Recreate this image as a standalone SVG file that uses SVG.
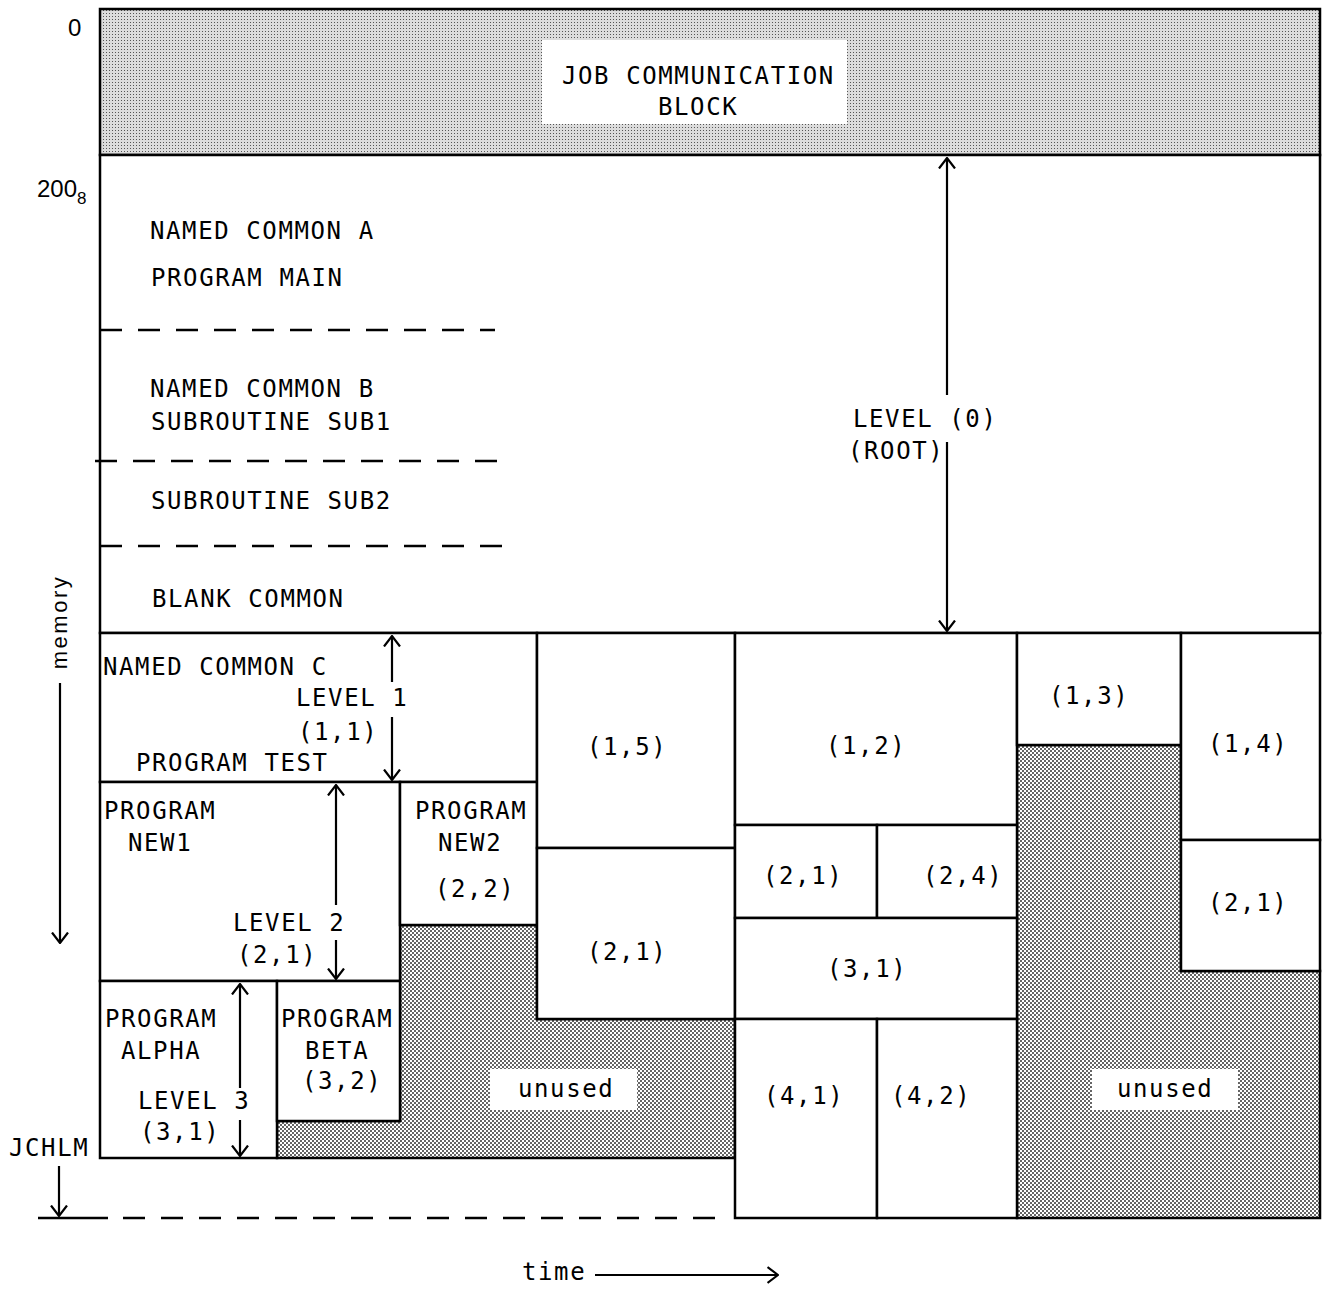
<svg xmlns="http://www.w3.org/2000/svg" width="1322" height="1289" viewBox="0 0 1322 1289">
<defs>
<pattern id="fine" width="3" height="3" patternUnits="userSpaceOnUse"><rect width="3" height="3" fill="#dcdcdc"/><rect x="1" y="1" width="1" height="1" fill="#555"/></pattern>
<pattern id="dots" width="4" height="4" patternUnits="userSpaceOnUse"><rect width="4" height="4" fill="#fff"/><circle cx="1" cy="1" r="0.95" fill="#222"/><circle cx="3" cy="3" r="0.95" fill="#222"/></pattern>
<marker id="ah" viewBox="0 0 12 18" refX="11" refY="9" markerWidth="12" markerHeight="18" markerUnits="userSpaceOnUse" orient="auto"><path d="M0.5,1 L11,9 L0.5,17" fill="none" stroke="#000" stroke-width="2.2"/></marker>
</defs>
<style>
.t{font-family:"DejaVu Sans Mono",monospace;font-size:24px;letter-spacing:1.6px;fill:#000}
.s{font-family:"Liberation Sans",Arial,sans-serif;fill:#000}
.b{fill:#fff;stroke:#000;stroke-width:2.5}
.g{fill:url(#dots);stroke:#000;stroke-width:2.5}
.d{stroke:#000;stroke-width:2.5;fill:none;stroke-dasharray:22 16}
.a{stroke:#000;stroke-width:2.2;fill:none;marker-end:url(#ah)}
</style>
<rect width="1322" height="1289" fill="#fff"/>

<g id="header">
<rect x="100" y="9" width="1220" height="146" fill="url(#fine)" stroke="#000" stroke-width="2.5"/>
<rect x="542" y="40" width="305" height="84" fill="#fff"/>
<text class="t" x="562" y="84">JOB COMMUNICATION</text>
<text class="t" x="658" y="115">BLOCK</text>
</g>

<g id="root">
<rect class="b" x="100" y="155" width="1220" height="478"/>
<line class="d" x1="100" y1="330" x2="495" y2="330"/>
<line class="d" x1="95" y1="461" x2="500" y2="461"/>
<line class="d" x1="100" y1="546" x2="502" y2="546"/>
<text class="t" x="150" y="239">NAMED COMMON A</text>
<text class="t" x="151" y="286">PROGRAM MAIN</text>
<text class="t" x="150" y="397">NAMED COMMON B</text>
<text class="t" x="151" y="430">SUBROUTINE SUB1</text>
<text class="t" x="151" y="509">SUBROUTINE SUB2</text>
<text class="t" x="152" y="607">BLANK COMMON</text>
<text class="t" x="853" y="427">LEVEL (0)</text>
<text class="t" x="848" y="459">(ROOT)</text>
</g>

<g id="unused1">
<polygon class="g" points="400,925 537,925 537,1019 735,1019 735,1158 277,1158 277,1121 400,1121"/>
<rect x="490" y="1069" width="147" height="41" fill="#fff"/>
<text class="t" x="518" y="1097">unused</text>
</g>
<g id="unused2">
<polygon class="g" points="1017,745 1181,745 1181,971 1320,971 1320,1218 1017,1218"/>
<rect x="1092" y="1069" width="146" height="41" fill="#fff"/>
<text class="t" x="1117" y="1097">unused</text>
</g>

<g id="n11"><rect class="b" x="100" y="633" width="437" height="149"/>
<text class="t" x="103" y="675">NAMED COMMON C</text>
<text class="t" x="296" y="706">LEVEL 1</text>
<text class="t" x="298" y="740">(1,1)</text>
<text class="t" x="136" y="771">PROGRAM TEST</text></g>
<g id="new1"><rect class="b" x="100" y="782" width="300" height="199"/>
<text class="t" x="104" y="819">PROGRAM</text>
<text class="t" x="128" y="851">NEW1</text>
<text class="t" x="233" y="931">LEVEL 2</text>
<text class="t" x="237" y="963">(2,1)</text></g>
<g id="new2"><rect class="b" x="400" y="782" width="137" height="143"/>
<text class="t" x="415" y="819">PROGRAM</text>
<text class="t" x="438" y="851">NEW2</text>
<text class="t" x="435" y="897">(2,2)</text></g>
<g id="alpha"><rect class="b" x="100" y="981" width="177" height="177"/>
<text class="t" x="105" y="1027">PROGRAM</text>
<text class="t" x="121" y="1059">ALPHA</text>
<text class="t" x="138" y="1109">LEVEL 3</text>
<text class="t" x="140" y="1140">(3,1)</text></g>
<g id="beta"><rect class="b" x="277" y="981" width="123" height="140"/>
<text class="t" x="281" y="1027">PROGRAM</text>
<text class="t" x="305" y="1059">BETA</text>
<text class="t" x="302" y="1089">(3,2)</text></g>
<g id="n15"><rect class="b" x="537" y="633" width="198" height="215"/><text class="t" x="587" y="755">(1,5)</text></g>
<g id="n21b"><rect class="b" x="537" y="848" width="198" height="171"/><text class="t" x="587" y="960">(2,1)</text></g>
<g id="n12"><rect class="b" x="735" y="633" width="282" height="192"/><text class="t" x="826" y="754">(1,2)</text></g>
<g id="n21c"><rect class="b" x="735" y="825" width="142" height="93"/><text class="t" x="763" y="884">(2,1)</text></g>
<g id="n24"><rect class="b" x="877" y="825" width="140" height="93"/><text class="t" x="923" y="884">(2,4)</text></g>
<g id="n31b"><rect class="b" x="735" y="918" width="282" height="101"/><text class="t" x="827" y="977">(3,1)</text></g>
<g id="n41"><rect class="b" x="735" y="1019" width="142" height="199"/><text class="t" x="764" y="1104">(4,1)</text></g>
<g id="n42"><rect class="b" x="877" y="1019" width="140" height="199"/><text class="t" x="891" y="1104">(4,2)</text></g>
<g id="n13"><rect class="b" x="1017" y="633" width="164" height="112"/><text class="t" x="1049" y="704">(1,3)</text></g>
<g id="n14"><rect class="b" x="1181" y="633" width="139" height="207"/><text class="t" x="1208" y="752">(1,4)</text></g>
<g id="n21d"><rect class="b" x="1181" y="840" width="139" height="131"/><text class="t" x="1208" y="911">(2,1)</text></g>

<g id="labels">
<text class="s" x="68" y="36" font-size="24">0</text>
<text class="s" x="37" y="197" font-size="24">200<tspan font-size="17" dy="7">8</tspan></text>
<text class="t" x="9" y="1156">JCHLM</text>
<text class="s" font-size="22" letter-spacing="2.5" text-anchor="middle" transform="translate(67,622) rotate(-90)">memory</text>
<text class="t" x="522" y="1280">time</text>
</g>

<g id="connectors">
<line class="a" x1="947" y1="395" x2="947" y2="158"/>
<line class="a" x1="947" y1="442" x2="947" y2="631"/>
<line class="a" x1="392" y1="682" x2="392" y2="636"/>
<line class="a" x1="392" y1="717" x2="392" y2="780"/>
<line class="a" x1="336" y1="905" x2="336" y2="785"/>
<line class="a" x1="336" y1="940" x2="336" y2="979"/>
<line class="a" x1="240" y1="1088" x2="240" y2="984"/>
<line class="a" x1="240" y1="1120" x2="240" y2="1156"/>
<line class="a" x1="60" y1="683" x2="60" y2="943"/>
<line class="a" x1="59" y1="1166" x2="59" y2="1216"/>
<line class="a" x1="595" y1="1275" x2="778" y2="1275"/>
<line x1="38" y1="1218" x2="108" y2="1218" stroke="#000" stroke-width="2.5"/>
<line class="d" x1="123" y1="1218" x2="716" y2="1218"/>
</g>
</svg>
